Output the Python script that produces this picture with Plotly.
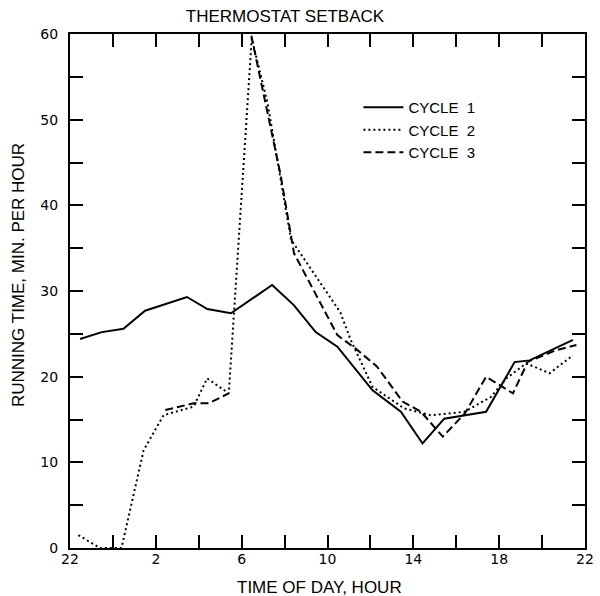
import plotly.graph_objects as go

# ---- data (hour of day continued past midnight: 24 = 0h, 46 = 22h) ----
cycle1_x = [22.47, 23.48, 24.49, 25.5, 27.45, 28.4, 29.5, 31.42, 32.43, 33.45, 34.46, 36.1,
            37.42, 38.43, 39.44, 41.39, 42.72, 43.42, 45.44]
cycle1_y = [24.4, 25.2, 25.6, 27.7, 29.3, 27.9, 27.4, 30.7, 28.35, 25.2, 23.5, 18.4,
            15.9, 12.2, 15.1, 15.9, 21.7, 21.9, 24.3]

cycle2_x = [22.39, 23.4, 24.4, 25.43, 26.36, 27.76, 28.39, 29.4, 30.47, 31.2, 32.3, 33.7,
            34.6, 35.08, 36.1, 37.57, 38.8, 40.38, 41.63, 42.33, 43.26, 44.35, 45.44]
cycle2_y = [1.5, 0, 0, 11.4, 15.5, 16.5, 19.8, 18.05, 59.5, 52.0, 36.0, 30.9,
            27.5, 24.3, 18.8, 16.3, 15.5, 15.9, 17.65, 19.8, 21.55, 20.4, 22.5]

# the rise of cycle 3 to its peak is hidden under cycle 2's dotted line in the reference
cycle3_x = [26.44, 27.76, 28.46, 29.4, None, 30.45, 31.03, 31.81, 32.44, 34.0, 34.46, 35.3, 36.3,
            37.5, 38.36, 39.37, 40.4, 41.39, 42.64, 43.34, 44.66, 45.6]
cycle3_y = [16.1, 16.9, 16.9, 18.05, None, 59.8, 52.9, 43.6, 34.4, 27.0, 24.85, 23.3, 21.2,
            17.1, 15.9, 13.0, 15.7, 20.0, 18.05, 21.75, 23.1, 23.7]

series_names = ["CYCLE  1", "CYCLE  2", "CYCLE  3"]

x_tickvals = [22, 24, 26, 28, 30, 32, 34, 36, 38, 40, 42, 44, 46]
x_ticktext = ["22", "", "2", "", "6", "", "10", "", "14", "", "18", "", "22"]
y_tickvals = [0, 5, 10, 15, 20, 25, 30, 35, 40, 45, 50, 55, 60]
y_ticktext = ["0", "", "10", "", "20", "", "30", "", "40", "", "50", "", "60"]

title_text = "THERMOSTAT SETBACK"
x_title = "TIME OF DAY, HOUR"
y_title = "RUNNING TIME, MIN. PER HOUR"

TXT = "Liberation Sans, Arial, sans-serif"
TICKF = "DejaVu Sans, sans-serif"

fig = go.Figure()
fig.add_trace(go.Scatter(x=cycle1_x, y=cycle1_y, mode="lines", name=series_names[0],
                         legendrank=1,
                         line=dict(color="black", width=2, dash="solid")))
fig.add_trace(go.Scatter(x=cycle3_x, y=cycle3_y, mode="lines", name=series_names[2],
                         legendrank=3, connectgaps=False,
                         line=dict(color="black", width=2, dash="8px,4px")))
fig.add_trace(go.Scatter(x=cycle2_x, y=cycle2_y, mode="lines", name=series_names[1],
                         legendrank=2,
                         line=dict(color="black", width=2, dash="2px,3px")))

axis_common = dict(
    showgrid=False, zeroline=False, showline=True, linecolor="black", linewidth=2,
    mirror="ticks", ticks="inside", ticklen=13, tickwidth=2, tickcolor="black",
    tickfont=dict(family=TICKF, size=14, color="black"),
)

fig.update_xaxes(range=[22, 46], tickmode="array", tickvals=x_tickvals, ticktext=x_ticktext,
                 ticklabelstandoff=-3, **axis_common)
fig.update_yaxes(range=[0, 60], tickmode="array", tickvals=y_tickvals, ticktext=y_ticktext,
                 ticklabelstandoff=7, **axis_common)

fig.update_layout(
    width=600, height=596,
    margin=dict(l=70, r=15, t=34, b=48, autoexpand=False),
    paper_bgcolor="white", plot_bgcolor="white",
    font=dict(family=TXT, color="black", size=17),
    title=dict(text=title_text, x=285 / 600, xref="container", xanchor="center",
               y=1 - 16 / 596, yref="container", yanchor="middle",
               font=dict(family=TXT, size=17, color="black")),
    showlegend=True,
    legend=dict(x=0.56, y=0.889, xanchor="left", yanchor="top", bgcolor="rgba(0,0,0,0)",
                font=dict(family=TXT, size=15, color="black"), tracegroupgap=0,
                itemwidth=40, traceorder="normal"),
    annotations=[
        dict(text=x_title, xref="paper", yref="paper", x=(319 - 70) / 515, y=0,
             yshift=-(587 - 548), xanchor="center", yanchor="middle", showarrow=False,
             font=dict(family=TXT, size=17, color="black")),
        dict(text=y_title, xref="paper", yref="paper", x=0, xshift=18 - 70,
             y=(548 - 275) / 514, xanchor="center", yanchor="middle", textangle=-90,
             showarrow=False, font=dict(family=TXT, size=17, color="black")),
    ],
)

fig.write_html("out.html", config={"displayModeBar": False},
               post_script="document.body.style.margin='0';document.body.style.padding='0';")
